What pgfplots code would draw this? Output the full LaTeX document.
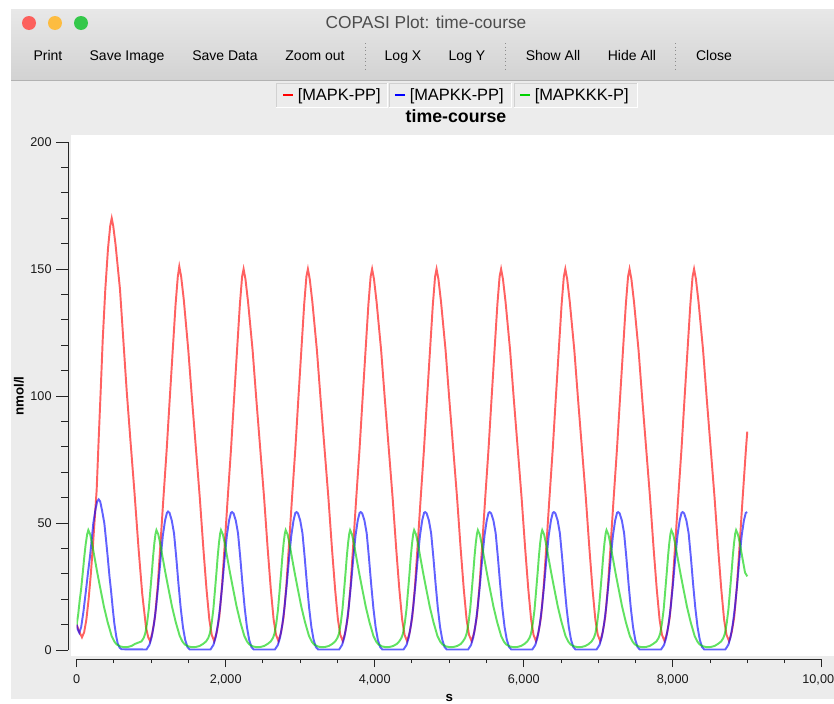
\documentclass[border=0pt]{standalone}
\usepackage{fontspec}
\setmainfont{Liberation Sans}
\usepackage{pgfplots}
\pgfplotsset{compat=1.18}

\definecolor{winbg}{HTML}{ECECEC}
\definecolor{tbtop}{HTML}{E8E8E8}
\definecolor{tbbot}{HTML}{D2D2D2}
\definecolor{tlred}{HTML}{FC605C}
\definecolor{tlyel}{HTML}{FDBC40}
\definecolor{tlgrn}{HTML}{34C84A}
\definecolor{ttl}{HTML}{4D4D4D}
\definecolor{cred}{rgb}{1,0,0}
\definecolor{cblue}{rgb}{0,0,1}
\definecolor{cgreen}{rgb}{0,0.82,0}

\begin{document}
\begin{tikzpicture}[x=0.75pt, y=-0.75pt]
\clip (0,0) rectangle (834,703);
% window
\fill[white] (0,0) rectangle (834,703);
\fill[winbg] (11,9) rectangle (840,699);
\shade[top color=tbtop, bottom color=tbbot] (11,9) rectangle (840,80);
\draw[black!30, line width=0.75pt] (11,80.5) -- (840,80.5);
\fill[tlred] (29,23) circle (7);
\fill[tlyel] (55,23) circle (7);
\fill[tlgrn] (81,23) circle (7);
\node[text=ttl, font=\fontsize{13}{15}\selectfont, anchor=base] at (426,28) {COPASI Plot: time-course};
\begin{scope}[font=\fontsize{10.5}{12}\selectfont, every node/.style={anchor=base}]
\node at (48,60.5) {Print};
\node at (127,60.5) {Save Image};
\node at (225,60.5) {Save Data};
\node at (315,60.5) {Zoom out};
\node at (403,60.5) {Log X};
\node at (467,60.5) {Log Y};
\node at (553,60.5) {Show All};
\node at (632,60.5) {Hide All};
\node at (714,60.5) {Close};
\end{scope}
\foreach \sx in {365,505,675} \draw[black!45, dotted, line width=0.75pt] (\sx,43) -- (\sx,69);
% legend cells
\foreach \la/\lb in {276/387, 389/511, 514/637} {
  \draw[black!18] (\la,107) -- (\la,83) -- (\lb,83);
  \draw[white] (\lb,83) -- (\lb,107) -- (\la,107);
}
\begin{scope}[font=\fontsize{12.3}{14}\selectfont]
\draw[cred, line width=1pt] (283,95) -- (293,95);
\node[anchor=base west, inner sep=0pt] at (297.5,100) {[MAPK-PP]};
\draw[cblue, line width=1pt] (395,95) -- (405,95);
\node[anchor=base west, inner sep=0pt] at (409.5,100) {[MAPKK-PP]};
\draw[cgreen, line width=1pt] (520,95) -- (530,95);
\node[anchor=base west, inner sep=0pt] at (534.5,100) {[MAPKKK-P]};
\end{scope}
\node[font=\fontsize{13.3}{15}\selectfont\bfseries, anchor=base] at (456,122) {time-course};
% canvas
\fill[white] (71,135) rectangle (840,656);
\coordinate (ax) at (76.7,650);

\begin{axis}[at={(ax)}, anchor=south west, scale only axis,
  width=558.8pt, height=381pt,
  xmin=0, xmax=10000, ymin=0, ymax=200,
  hide x axis, axis y line*=left, axis y line shift=6.5pt,
  axis line style={-, black!85, line width=0.75pt},
  ytick={0,50,...,200}, minor y tick num=4,
  tick align=outside, major tick length=8.8pt, minor tick length=5pt,
  tick style={black!85, line width=0.75pt},
  font=\fontsize{9.5}{11}\selectfont,
  /pgf/number format/assume math mode=true,
  yticklabel style={anchor=east, text=black!90},
  ylabel={nmol/l},
  every axis y label/.style={at={(rel axis cs:0,0.5)}, xshift=-43.3pt, anchor=center, rotate=90, font=\fontsize{10}{12}\selectfont\bfseries},
  every axis plot/.append style={line width=1.45pt, draw opacity=0.62}]
\addplot[cred] coordinates {
(0,10)(30,7.5)(71,5)(100,7)(130,12)(160,20)(190,30)(220,42)(245,53)(268,63)(295,83)(322,102)(349,122)(384,142)(420,158)(450,167)(470,170)(490,167)(520,160)(581,142)(626,122)(671,102)(720,83)(773,63)(830,40)(880,22)(930,9)(960,5)(985,3.5)
(1017,7)(1051,13)(1087,25)(1118,39)(1162,59)(1208,79)(1247,98)(1289,118)(1327,136)(1357,147)(1377,151)(1402,147)(1437,138)(1498,118)(1547,99)(1601,79)(1652,60)(1700,40)(1742,24)(1780,12)(1812,6)(1845,3.5)
(1880,7)(1914,13)(1950,25)(1981,39)(2025,59)(2071,79)(2110,98)(2152,118)(2190,136)(2220,147)(2240,150)(2265,146)(2300,137)(2361,118)(2410,99)(2464,79)(2515,60)(2563,40)(2605,24)(2643,12)(2675,6)(2708,3.5)
(2743,7)(2777,13)(2813,25)(2844,39)(2888,59)(2934,79)(2973,98)(3015,118)(3053,136)(3083,147)(3103,150)(3128,146)(3163,137)(3224,118)(3273,99)(3327,79)(3378,60)(3426,40)(3468,24)(3506,12)(3538,6)(3571,3.5)
(3605,7)(3639,13)(3675,25)(3706,39)(3750,59)(3796,79)(3835,98)(3877,118)(3915,136)(3945,147)(3965,150)(3990,146)(4025,137)(4086,118)(4135,99)(4189,79)(4240,60)(4288,40)(4330,24)(4368,12)(4400,6)(4434,3.5)
(4470,7)(4504,13)(4540,25)(4571,39)(4615,59)(4661,79)(4700,98)(4742,118)(4780,136)(4810,147)(4830,150)(4855,146)(4890,137)(4951,118)(5000,99)(5054,79)(5105,60)(5153,40)(5195,24)(5233,12)(5265,6)(5300,3.5)
(5336,7)(5370,13)(5406,25)(5437,39)(5481,59)(5527,79)(5566,98)(5608,118)(5646,136)(5676,147)(5696,150)(5721,146)(5756,137)(5817,118)(5866,99)(5920,79)(5971,60)(6019,40)(6061,24)(6099,12)(6131,6)(6164,3.5)
(6198,7)(6232,13)(6268,25)(6299,39)(6343,59)(6389,79)(6428,98)(6470,118)(6508,136)(6538,147)(6558,150)(6583,146)(6618,137)(6679,118)(6728,99)(6782,79)(6833,60)(6881,40)(6923,24)(6961,12)(6993,6)(7026,3.5)
(7060,7)(7094,13)(7130,25)(7161,39)(7205,59)(7251,79)(7290,98)(7332,118)(7370,136)(7400,147)(7420,150)(7445,146)(7480,137)(7541,118)(7590,99)(7644,79)(7695,60)(7743,40)(7785,24)(7823,12)(7855,6)(7890,3.5)
(7926,7)(7960,13)(7996,25)(8027,39)(8071,59)(8117,79)(8156,98)(8198,118)(8236,136)(8266,147)(8286,150)(8311,146)(8346,137)(8407,118)(8456,99)(8510,79)(8561,60)(8609,40)(8651,24)(8689,12)(8721,6)(8756,3.5)
(8791,7)(8825,13)(8861,25)(8892,39)(8936,59)(8982,79)(9000,86)
};
\addplot[cblue] coordinates {
(0,10)(15,8)(35,6.8)(60,9)(90,15)(125,23.6)(150,30)(178,36.7)(200,43)(223,49.9)(250,55)(275,58.5)(295,59.3)(315,58.5)(340,55)(371,49.9)(395,43)(416,36.7)(440,29)(460,23.6)(485,16)(505,10.5)(530,5.5)(550,2.6)(575,1)(600,0.3)
(936,0.2)(976,2)(1006,5)(1036,10)(1066,17)(1096,26)(1126,36)(1156,45)(1186,51)(1211,54)(1226,54.5)(1246,54)(1276,51)(1306,46)(1336,36.5)(1366,26)(1396,16.5)(1426,9)(1456,4)(1486,1.2)(1516,0.2)
(1795,0.2)(1835,2)(1865,5)(1895,10)(1925,17)(1955,26)(1985,36)(2015,45)(2045,51)(2070,54)(2085,54.3)(2105,53.8)(2135,51)(2165,46)(2195,36.5)(2225,26)(2255,16.5)(2285,9)(2315,4)(2345,1.2)(2375,0.2)
(2660,0.2)(2700,2)(2730,5)(2760,10)(2790,17)(2820,26)(2850,36)(2880,45)(2910,51)(2935,54)(2950,54.3)(2970,53.8)(3000,51)(3030,46)(3060,36.5)(3090,26)(3120,16.5)(3150,9)(3180,4)(3210,1.2)(3240,0.2)
(3522,0.2)(3562,2)(3592,5)(3622,10)(3652,17)(3682,26)(3712,36)(3742,45)(3772,51)(3797,54)(3812,54.3)(3832,53.8)(3862,51)(3892,46)(3922,36.5)(3952,26)(3982,16.5)(4012,9)(4042,4)(4072,1.2)(4102,0.2)
(4387,0.2)(4427,2)(4457,5)(4487,10)(4517,17)(4547,26)(4577,36)(4607,45)(4637,51)(4662,54)(4677,54.3)(4697,53.8)(4727,51)(4757,46)(4787,36.5)(4817,26)(4847,16.5)(4877,9)(4907,4)(4937,1.2)(4967,0.2)
(5253,0.2)(5293,2)(5323,5)(5353,10)(5383,17)(5413,26)(5443,36)(5473,45)(5503,51)(5528,54)(5543,54.3)(5563,53.8)(5593,51)(5623,46)(5653,36.5)(5683,26)(5713,16.5)(5743,9)(5773,4)(5803,1.2)(5833,0.2)
(6115,0.2)(6155,2)(6185,5)(6215,10)(6245,17)(6275,26)(6305,36)(6335,45)(6365,51)(6390,54)(6405,54.3)(6425,53.8)(6455,51)(6485,46)(6515,36.5)(6545,26)(6575,16.5)(6605,9)(6635,4)(6665,1.2)(6695,0.2)
(6977,0.2)(7017,2)(7047,5)(7077,10)(7107,17)(7137,26)(7167,36)(7197,45)(7227,51)(7252,54)(7267,54.3)(7287,53.8)(7317,51)(7347,46)(7377,36.5)(7407,26)(7437,16.5)(7467,9)(7497,4)(7527,1.2)(7557,0.2)
(7843,0.2)(7883,2)(7913,5)(7943,10)(7973,17)(8003,26)(8033,36)(8063,45)(8093,51)(8118,54)(8133,54.3)(8153,53.8)(8183,51)(8213,46)(8243,36.5)(8273,26)(8303,16.5)(8333,9)(8363,4)(8393,1.2)(8423,0.2)
(8705,0.2)(8745,2)(8775,5)(8805,10)(8835,17)(8865,26)(8895,36)(8925,45)(8955,51)(8980,54)(9000,54.3)
};
\addplot[cgreen] coordinates {
(0,10)(20,14)(40,19.5)(58,23.6)(80,30)(102,36.7)(120,41.5)(140,45.5)(156,47.2)(181,45.5)(206,42)(236,37)(276,30.5)(312,25)(366,17)(415,11)(469,5.5)(506,3.3)(536,2.2)(586,1.4)(636,1.1)(686,1.2)(736,1.6)(782,2.4)
(870,3.4)(900,4.8)(920,6.5)(944,10.5)(967,16)(989,23.6)(1010,31)(1025,36.7)(1042,42)(1058,45.8)(1070,47.2)
(1095,45.5)(1120,42)(1150,37)(1190,30.5)(1226,25)(1280,17)(1329,11)(1383,5.5)(1420,3.3)(1450,2.2)(1500,1.4)(1550,1.1)(1600,1.2)(1650,1.6)(1696,2.4)
(1737,3.4)(1767,4.8)(1787,6.5)(1811,10.5)(1834,16)(1856,23.6)(1877,31)(1892,36.7)(1909,42)(1925,45.8)(1937,47.2)
(1962,45.5)(1987,42)(2017,37)(2057,30.5)(2093,25)(2147,17)(2196,11)(2250,5.5)(2287,3.3)(2317,2.2)(2367,1.4)(2417,1.1)(2467,1.2)(2517,1.6)(2563,2.4)
(2605,3.4)(2635,4.8)(2655,6.5)(2679,10.5)(2702,16)(2724,23.6)(2745,31)(2760,36.7)(2777,42)(2793,45.8)(2805,47.2)
(2830,45.5)(2855,42)(2885,37)(2925,30.5)(2961,25)(3015,17)(3064,11)(3118,5.5)(3155,3.3)(3185,2.2)(3235,1.4)(3285,1.1)(3335,1.2)(3385,1.6)(3431,2.4)
(3470,3.4)(3500,4.8)(3520,6.5)(3544,10.5)(3567,16)(3589,23.6)(3610,31)(3625,36.7)(3642,42)(3658,45.8)(3670,47.2)
(3695,45.5)(3720,42)(3750,37)(3790,30.5)(3826,25)(3880,17)(3929,11)(3983,5.5)(4020,3.3)(4050,2.2)(4100,1.4)(4150,1.1)(4200,1.2)(4250,1.6)(4296,2.4)
(4329,3.4)(4359,4.8)(4379,6.5)(4403,10.5)(4426,16)(4448,23.6)(4469,31)(4484,36.7)(4501,42)(4517,45.8)(4529,47.2)
(4554,45.5)(4579,42)(4609,37)(4649,30.5)(4685,25)(4739,17)(4788,11)(4842,5.5)(4879,3.3)(4909,2.2)(4959,1.4)(5009,1.1)(5059,1.2)(5109,1.6)(5155,2.4)
(5184,3.4)(5214,4.8)(5234,6.5)(5258,10.5)(5281,16)(5303,23.6)(5324,31)(5339,36.7)(5356,42)(5372,45.8)(5384,47.2)
(5409,45.5)(5434,42)(5464,37)(5504,30.5)(5540,25)(5594,17)(5643,11)(5697,5.5)(5734,3.3)(5764,2.2)(5814,1.4)(5864,1.1)(5914,1.2)(5964,1.6)(6010,2.4)
(6048,3.4)(6078,4.8)(6098,6.5)(6122,10.5)(6145,16)(6167,23.6)(6188,31)(6203,36.7)(6220,42)(6236,45.8)(6248,47.2)
(6273,45.5)(6298,42)(6328,37)(6368,30.5)(6404,25)(6458,17)(6507,11)(6561,5.5)(6598,3.3)(6628,2.2)(6678,1.4)(6728,1.1)(6778,1.2)(6828,1.6)(6874,2.4)
(6911,3.4)(6941,4.8)(6961,6.5)(6985,10.5)(7008,16)(7030,23.6)(7051,31)(7066,36.7)(7083,42)(7099,45.8)(7111,47.2)
(7136,45.5)(7161,42)(7191,37)(7231,30.5)(7267,25)(7321,17)(7370,11)(7424,5.5)(7461,3.3)(7491,2.2)(7541,1.4)(7591,1.1)(7641,1.2)(7691,1.6)(7737,2.4)
(7781,3.4)(7811,4.8)(7831,6.5)(7855,10.5)(7878,16)(7900,23.6)(7921,31)(7936,36.7)(7953,42)(7969,45.8)(7981,47.2)
(8006,45.5)(8031,42)(8061,37)(8101,30.5)(8137,25)(8191,17)(8240,11)(8294,5.5)(8331,3.3)(8361,2.2)(8411,1.4)(8461,1.1)(8511,1.2)(8561,1.6)(8607,2.4)
(8650,3.4)(8680,4.8)(8700,6.5)(8724,10.5)(8747,16)(8769,23.6)(8790,31)(8805,36.7)(8822,42)(8838,45.8)(8850,47.2)
(8875,45.5)(8900,42)(8930,37)(8970,30.5)(9000,29)
};
\end{axis}

\begin{axis}[at={(ax)}, anchor=south west, scale only axis,
  width=558.8pt, height=381pt,
  xmin=0, xmax=10000, ymin=0, ymax=200,
  hide y axis, axis x line*=bottom, axis x line shift=6.75pt,
  axis line style={-, black!85, line width=0.75pt},
  xtick={0,2000,...,10000}, minor x tick num=3, scaled x ticks=false,
  tick align=outside, major tick length=6pt, minor tick length=3pt,
  tick style={black!85, line width=0.75pt},
  font=\fontsize{9.5}{11}\selectfont,
  /pgf/number format/assume math mode=true,
  /pgf/number format/1000 sep={,},
  xticklabel style={text=black!90, yshift=-2pt},
  xlabel={s},
  every axis x label/.style={at={(rel axis cs:0.5,0)}, yshift=-36pt, anchor=center, font=\fontsize{10}{12}\selectfont\bfseries}]
\end{axis}
\end{tikzpicture}
\end{document}
